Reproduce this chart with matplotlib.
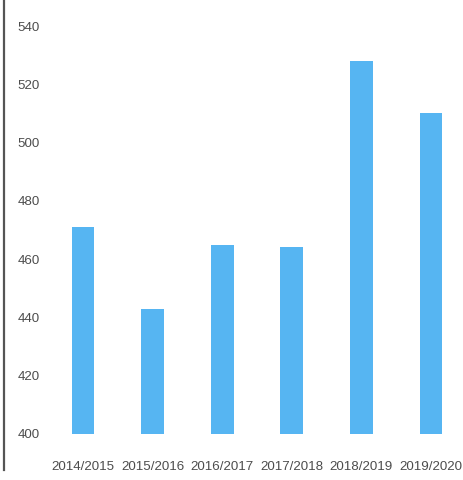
import matplotlib
matplotlib.use('Agg')
import matplotlib.pyplot as plt
import numpy as np

BAR_BLUE = "#56b5f2"
TEXT_GREY = "#4d4d4d"
AXIS_GREY = "#555555"

plt.rcParams['font.family'] = ['Liberation Sans', 'DejaVu Sans']

years = ['2014/2015', '2015/2016', '2016/2017', '2017/2018', '2018/2019', '2019/2020']
values = [471, 443, 465, 464, 528, 510]
yticks = [400, 420, 440, 460, 480, 500, 520, 540]
base = 400

W, H = 464, 480
fig = plt.figure(figsize=(W / 100, H / 100), dpi=100)
# axes spans from the left rule to the right edge
ax = fig.add_axes([4 / W, 1 - 452 / H, 1 - 4 / W, 452 / H])

x = np.arange(len(years))
ax.bar(x, np.array(values) - base, bottom=base, width=0.33, color=BAR_BLUE)

px_per_unit = (434 - 26) / 140
ax.set_ylim(base - (452 - 434) / px_per_unit, base + 434 / px_per_unit)
step = 69.6
ax.set_xlim(-(83 - 4) / step, (464 - 83) / step)

ax.set_yticks(yticks)
ax.set_xticks(x)
ax.set_xticklabels(years)
ax.tick_params(axis='y', length=0, pad=-26, labelsize=9.6, labelcolor=TEXT_GREY)
ax.tick_params(axis='x', length=0, pad=6.5, labelsize=9.6, labelcolor=TEXT_GREY)
for lab in ax.get_yticklabels():
    lab.set_horizontalalignment('right')

for s in ['top', 'right', 'bottom']:
    ax.spines[s].set_visible(False)
ax.spines['left'].set_color(AXIS_GREY)
ax.spines['left'].set_linewidth(1.6)
ax.spines['left'].set_bounds(ax.get_ylim()[0] - 18 / px_per_unit, ax.get_ylim()[1])
ax.grid(False)

fig.savefig('out.png', dpi=100)
